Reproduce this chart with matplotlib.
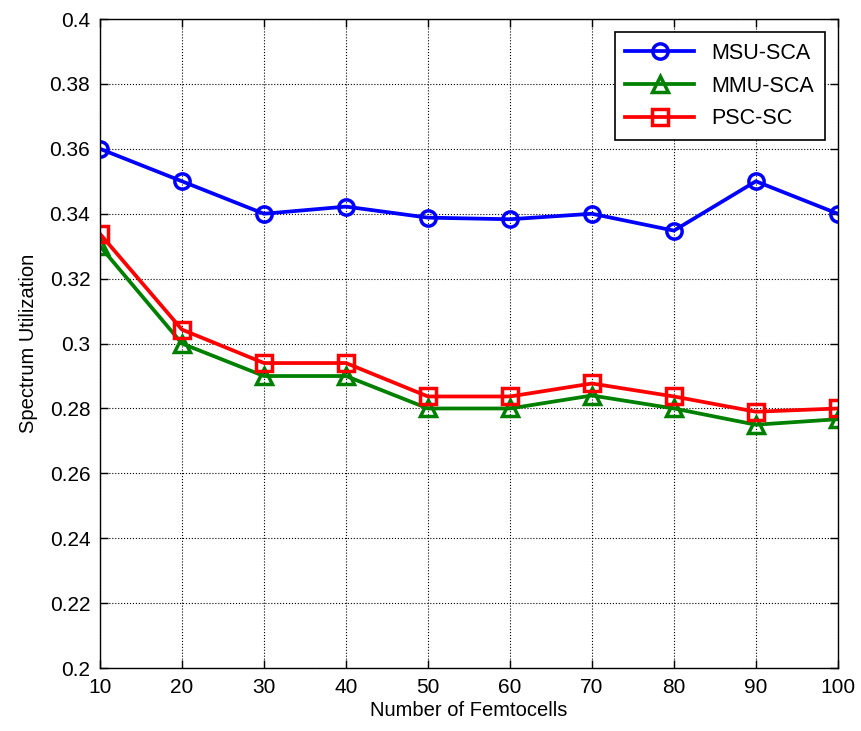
import matplotlib
matplotlib.use("Agg")
import matplotlib.pyplot as plt

femtocells = [10, 20, 30, 40, 50, 60, 70, 80, 90, 100]
msu_sca = [0.360, 0.350, 0.340, 0.3422, 0.3388, 0.3383, 0.340, 0.3348, 0.350, 0.340]
mmu_sca = [0.330, 0.300, 0.290, 0.290, 0.280, 0.280, 0.284, 0.280, 0.275, 0.2767]
psc_sc = [0.3338, 0.3043, 0.294, 0.294, 0.2837, 0.2837, 0.2877, 0.2837, 0.279, 0.280]

plt.rcParams["font.family"] = ["Liberation Sans", "DejaVu Sans"]

fig = plt.figure(figsize=(8.62, 7.31), dpi=100)
ax = fig.add_axes([0.116, 0.086, 0.856, 0.888])

ax.plot(femtocells, msu_sca, "-o", color="blue", lw=2.7, ms=11, mfc="none", mew=2.5, label="MSU-SCA")
ax.plot(femtocells, mmu_sca, "-^", color="green", lw=2.7, ms=11, mfc="none", mew=2.5, label="MMU-SCA")
ax.plot(femtocells, psc_sc, "-s", color="red", lw=2.7, ms=11, mfc="none", mew=2.5, label="PSC-SC")

ax.set_xlim(10, 100)
ax.set_ylim(0.2, 0.4)
ax.set_xticks(femtocells)
ax.set_yticks([0.2, 0.22, 0.24, 0.26, 0.28, 0.3, 0.32, 0.34, 0.36, 0.38, 0.4])
ax.set_yticklabels(["0.2", "0.22", "0.24", "0.26", "0.28", "0.3", "0.32", "0.34", "0.36", "0.38", "0.4"])
ax.tick_params(direction="in", top=True, right=True, labelsize=15, length=6, width=1, pad=7)
ax.grid(True, color="black", linestyle=":", linewidth=0.8)
for s in ax.spines.values():
    s.set_linewidth(1)

ax.set_xlabel("Number of Femtocells", fontsize=14.5, labelpad=3)
ax.set_ylabel("Spectrum Utilization", fontsize=14.5, labelpad=8)

leg = ax.legend(loc="upper right", fontsize=15.5, fancybox=False, framealpha=1,
                edgecolor="black", handlelength=3.2, borderaxespad=0.6,
                labelspacing=0.55, borderpad=0.5)
leg.get_frame().set_linewidth(1.2)

fig.savefig("out.png", dpi=100)
